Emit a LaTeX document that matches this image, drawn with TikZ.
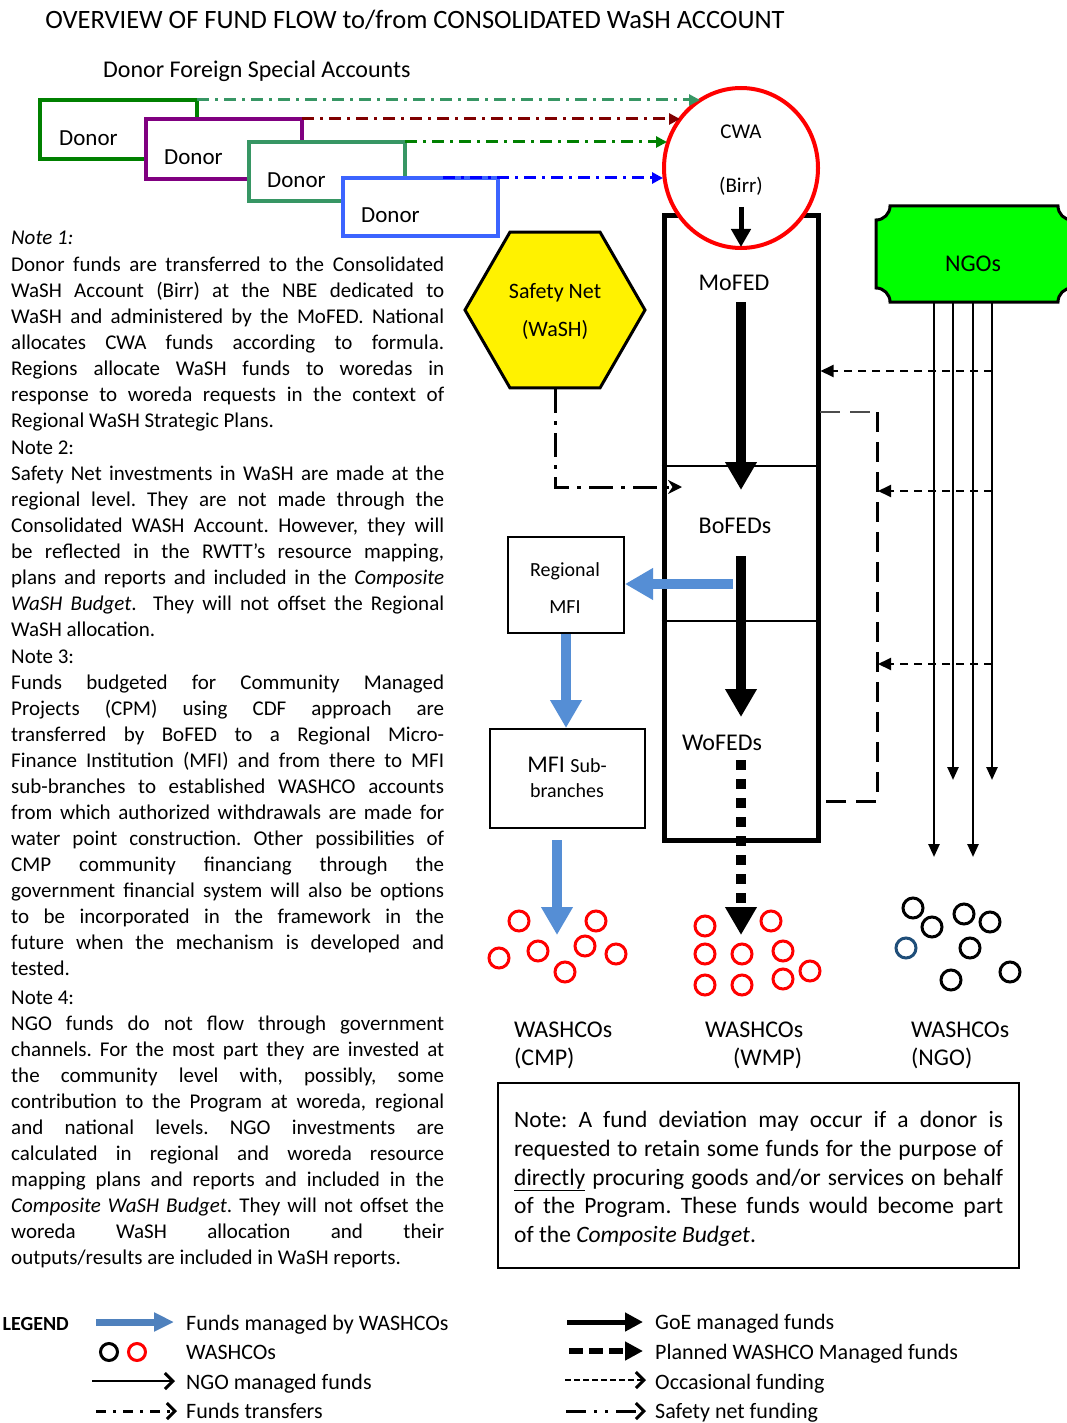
\documentclass[tikz,border=0pt]{standalone}
\usepackage{fontspec}
\setmainfont{Carlito}
\usetikzlibrary{arrows.meta,shapes.geometric}
\definecolor{dgreen}{RGB}{0,128,0}
\definecolor{dpurple}{RGB}{128,0,128}
\definecolor{sgreen}{RGB}{55,150,100}
\definecolor{dblue}{RGB}{60,100,255}
\definecolor{dred}{RGB}{128,0,0}
\definecolor{pblue}{RGB}{0,0,255}
\definecolor{fundblue}{RGB}{85,142,213}
\definecolor{legblue}{RGB}{79,129,189}
\definecolor{ngogreen}{RGB}{0,255,0}
\definecolor{navy}{RGB}{31,78,121}
\frenchspacing
\newcommand\fsz[1]{\fontsize{#1}{#1}\selectfont}
% justified and natural lines of the side notes
\newcommand\jline[3]{\node[txt, anchor=base west, font=\fsz{21}] (#1) at (11,#2) {\makebox[433pt][s]{#3}};}
\newcommand\nline[3]{\node[txt, anchor=base west, font=\fsz{21}] (#1) at (11,#2) {#3};}
\newcommand\bline[3]{\node[txt, anchor=base west, font=\fsz{23.5}] (#1) at (514,#2) {\makebox[489pt][s]{#3}};}
\begin{document}
\begin{tikzpicture}[x=1pt,y=-1pt,
  txt/.style={inner sep=0pt, anchor=base},
  donorbox/.style={draw, line width=4pt, fill=white, inner sep=0pt, outer sep=0pt},
  transfer/.style={line width=3pt, dash pattern=on 12pt off 6pt on 3pt off 6pt, -{Triangle[length=11pt,width=11pt]}},
  goe/.style={line width=10pt, -{Triangle[length=28pt,width=30pt]}},
  washco/.style={line width=10pt, fundblue, -{Triangle[length=28pt,width=30pt]}},
  planned/.style={line width=9.5pt, dash pattern=on 10pt off 9pt, -{Triangle[length=28pt,width=30pt]}},
  occasional/.style={line width=2pt, dash pattern=on 8pt off 6pt, -{Triangle[length=13pt,width=12pt]}},
  ngoflow/.style={line width=2.5pt, -{Triangle[length=13pt,width=11pt]}},
  bracket/.style={line width=3pt, dash pattern=on 20pt off 10pt},
  safety/.style={line width=3pt, dash pattern=on 24pt off 8pt on 4pt off 8pt, -{Stealth[length=14pt,width=14pt]}},
  wc/.style={circle, draw=red, line width=3pt, minimum size=20pt, inner sep=0pt},
  nc/.style={circle, draw=black, line width=3pt, minimum size=20pt, inner sep=0pt},
  plainbox/.style={draw, line width=2pt, inner sep=0pt},
  barb/.style={-{Straight Barb[length=8pt,width=16pt,line width=3pt]}}
]
\useasboundingbox (0,0) rectangle (1067,1423);
\fill[white] (0,0) rectangle (1067,1423);

% headings
\node[txt, font=\fsz{26.5}] (title) at (415,28.5) {OVERVIEW OF FUND FLOW to/from CONSOLIDATED WaSH ACCOUNT};
\node[txt, anchor=base west, font=\fsz{24}] (subtitle) at (103,78) {Donor Foreign Special Accounts};

% donor special accounts
\node[donorbox, draw=dgreen, minimum width=157pt, minimum height=59pt] (d1) at (118.5,129.5) {};
\node[txt, anchor=base west, font=\fsz{23}] (d1t) at (59,146) {Donor};
\node[donorbox, draw=dpurple, minimum width=156pt, minimum height=60pt] (d2) at (224,149) {};
\node[txt, anchor=base west, font=\fsz{23}] (d2t) at (164,165) {Donor};
\node[donorbox, draw=sgreen, minimum width=156pt, minimum height=59pt] (d3) at (327,171.5) {};
\node[txt, anchor=base west, font=\fsz{23}] (d3t) at (267,188) {Donor};
\node[donorbox, draw=dblue, minimum width=155pt, minimum height=58pt] (d4) at (420.5,207) {};
\node[txt, anchor=base west, font=\fsz{23}] (d4t) at (361,223) {Donor};

% government channel column
\node[draw, line width=5pt, minimum width=154pt, minimum height=624pt, inner sep=0pt] (col) at (741,528) {};
\draw[line width=2pt] (col.west |- 0,466) -- (col.east |- 0,466);
\draw[line width=2pt] (col.west |- 0,621) -- (col.east |- 0,621);
\node[txt, font=\fsz{24}] (mofed) at (734,290) {MoFED};
\node[txt, font=\fsz{24}] (bofed) at (735,533) {BoFEDs};
\node[txt, font=\fsz{24}] (wofed) at (722,750) {WoFEDs};

% consolidated WaSH account
\node[ellipse, draw=red, line width=4pt, fill=white, minimum width=154pt, minimum height=160pt, inner sep=0pt] (cwa) at (741,168) {};
\node[txt, font=\fsz{21}] (cwat) at (741,139) {CWA};
\node[txt, font=\fsz{21}] (birrt) at (741,193) {(Birr)};
\coordinate (birr) at (741,207);
\coordinate (cwaout) at (741,247);
\draw[line width=5pt, -{Triangle[length=18pt,width=19pt]}] (birr) -- (cwaout);

% donor transfers into the CWA
\coordinate (e1) at (700,100);
\coordinate (e2) at (680,119);
\coordinate (e3) at (667,142);
\coordinate (s4) at (443,178);
\coordinate (e4) at (663,178);
\draw[transfer, sgreen] (d1.north east) -- (d1.north east -| e1);
\draw[transfer, dred] (d2.north east) -- (d2.north east -| e2);
\draw[transfer, dgreen] (d3.north east) -- (d3.north east -| e3);
\draw[transfer, pblue] (s4) -- (e4);

% GoE flows down the column
\coordinate (m1) at (741,302);
\coordinate (m2) at (741,490);
\coordinate (b1) at (741,556);
\coordinate (b2) at (741,717);
\coordinate (w1) at (741,760);
\coordinate (w2) at (741,935);
\draw[goe] (m1) -- (m2);
\draw[goe] (b1) -- (b2);
\draw[planned] (w1) -- (w2);

% safety net
\node[regular polygon, regular polygon sides=6, minimum size=180pt, draw, line width=3pt, fill=yellow, inner sep=0pt] (sn) at (555,310) {};
\node[txt, font=\fsz{22}] (snt1) at (555,298) {Safety Net};
\node[txt, font=\fsz{22}] (snt2) at (555,336) {(WaSH)};
\coordinate (snend) at (682,487);
\draw[safety] (sn.south) |- (snend);

% micro-finance route
\node[plainbox, minimum width=116pt, minimum height=96pt] (rmfi) at (566,585) {};
\node[txt, font=\fsz{20}] (rmfit1) at (565,576) {Regional};
\node[txt, font=\fsz{20}] (rmfit2) at (565,613) {MFI};
\node[plainbox, minimum width=155pt, minimum height=99pt] (msub) at (567.5,778.5) {};
\node[txt, font=\fsz{24}] (msubt1) at (567,772.5) {MFI {\fsz{20}Sub-}};
\node[txt, font=\fsz{20}] (msubt2) at (567,797) {branches};
\coordinate (bofout) at (733,584);
\draw[washco] (bofout) -- (bofout -| rmfi.east);
\draw[washco] (rmfi.south) -- (rmfi.south |- msub.north);
\coordinate (cmpin) at (557,840);
\coordinate (cmpend) at (557,935);
\draw[washco] (cmpin) -- (cmpend);

% WASHCOs
\foreach \p [count=\i] in {(519,921),(596,921),(499,958),(538,951),(585,946),(616,954),(565,972)}
  \node[wc] (cmp\i) at \p {};
\foreach \p [count=\i] in {(705,926),(771,921),(705,954),(742,954),(783,951),(705,985),(742,985),(783,979),(810,971)}
  \node[wc] (wmp\i) at \p {};
\foreach \p [count=\i] in {(913,908),(932,927),(964,914),(990,922),(970,948),(951,980),(1010,972)}
  \node[nc] (ngo\i) at \p {};
\node[nc, draw=navy] (ngo8) at (906,948) {};
\node[txt, anchor=base west, font=\fsz{24}] (cmpl1) at (514,1037) {WASHCOs};
\node[txt, anchor=base west, font=\fsz{24}] (cmpl2) at (514,1065) {(CMP)};
\node[txt, anchor=base west, font=\fsz{24}] (wmpl1) at (705,1037) {WASHCOs};
\node[txt, anchor=base west, font=\fsz{24}] (wmpl2) at (733,1065) {(WMP)};
\node[txt, anchor=base west, font=\fsz{24}] (ngol1) at (911,1037) {WASHCOs};
\node[txt, anchor=base west, font=\fsz{24}] (ngol2) at (911,1065) {(NGO)};

% NGOs
\draw[line width=3pt, fill=ngogreen]
  (890,206) -- (1058,206) arc[start angle=180, end angle=90, radius=14]
  -- (1072,288) arc[start angle=270, end angle=180, radius=14]
  -- (890,302) arc[start angle=0, end angle=-90, radius=14]
  -- (876,220) arc[start angle=90, end angle=0, radius=14] -- cycle;
\node[txt, font=\fsz{24}] (ngos) at (973,272) {NGOs};
\foreach \x/\e in {934/857, 953/780, 973/857, 992/780} {
  \coordinate (ngotop\x) at (\x,302);
  \coordinate (ngoend\x) at (\x,\e);
  \draw[ngoflow] (ngotop\x) -- (ngoend\x);
}

% occasional funding
\coordinate (br1) at (820,412);
\coordinate (br2) at (877,412);
\coordinate (br3) at (877,801);
\coordinate (br4) at (820,801);
\draw[bracket, line width=2pt, black!70] (br1) -- (br2);
\draw[bracket] (br2) -- (br3) -- (br4);
\coordinate (o1s) at (992,371);
\coordinate (o2s) at (992,491);
\coordinate (o2e) at (878,491);
\coordinate (o3s) at (992,664);
\coordinate (o3e) at (878,664);
\draw[occasional] (o1s) -- (col.east |- o1s);
\draw[occasional] (o2s) -- (o2e);
\draw[occasional] (o3s) -- (o3e);

% side notes
\nline{n1h}{245}{\textit{Note 1:}}
\jline{n1a}{271}{Donor funds are transferred to the Consolidated}
\jline{n1b}{297}{WaSH Account (Birr) at the NBE dedicated to}
\jline{n1c}{323}{WaSH and administered by the MoFED. National}
\jline{n1d}{349}{allocates CWA funds according to formula.}
\jline{n1e}{375}{Regions allocate WaSH funds to woredas in}
\jline{n1f}{401}{response to woreda requests in the context of}
\nline{n1g}{427}{Regional WaSH Strategic Plans.}
\nline{n2h}{454}{Note 2:}
\jline{n2a}{480}{Safety Net investments in WaSH are made at the}
\jline{n2b}{506}{regional level. They are not made through the}
\jline{n2c}{532}{Consolidated WASH Account. However, they will}
\jline{n2d}{558}{be reflected in the RWTT’s resource mapping,}
\jline{n2e}{584}{plans and reports and included in the \textit{Composite}}
\jline{n2f}{610}{\textit{WaSH Budget}. \ They will not offset the Regional}
\nline{n2g}{636}{WaSH allocation.}
\nline{n3h}{663}{Note 3:}
\jline{n3a}{689}{Funds budgeted for Community Managed}
\jline{n3b}{715}{Projects (CPM) using CDF approach are}
\jline{n3c}{741}{transferred by BoFED to a Regional Micro-}
\jline{n3d}{767}{Finance Institution (MFI) and from there to MFI}
\jline{n3e}{793}{sub-branches to established WASHCO accounts}
\jline{n3f}{819}{from which authorized withdrawals are made for}
\jline{n3g}{845}{water point construction. Other possibilities of}
\jline{n3i}{871}{CMP community financiang through the}
\jline{n3j}{897}{government financial system will also be options}
\jline{n3k}{923}{to be incorporated in the framework in the}
\jline{n3l}{949}{future when the mechanism is developed and}
\nline{n3m}{975}{tested.}
\nline{n4h}{1004}{Note 4:}
\jline{n4a}{1030}{NGO funds do not flow through government}
\jline{n4b}{1056}{channels. For the most part they are invested at}
\jline{n4c}{1082}{the community level with, possibly, some}
\jline{n4d}{1108}{contribution to the Program at woreda, regional}
\jline{n4e}{1134}{and national levels. NGO investments are}
\jline{n4f}{1160}{calculated in regional and woreda resource}
\jline{n4g}{1186}{mapping plans and reports and included in the}
\jline{n4i}{1212}{\textit{Composite WaSH Budget}. They will not offset the}
\jline{n4j}{1238}{woreda WaSH allocation and their}
\nline{n4k}{1264}{outputs/results are included in WaSH reports.}

% fund deviation note
\node[plainbox, minimum width=521pt, minimum height=185pt] (notebox) at (758.5,1175.5) {};
\bline{nb1}{1127}{Note: A fund deviation may occur if a donor is}
\bline{nb2}{1156}{requested to retain some funds for the purpose of}
\bline{nb3}{1185}{\underline{directly} procuring goods and/or services on behalf}
\bline{nb4}{1213}{of the Program. These funds would become part}
\node[txt, anchor=base west, font=\fsz{23.5}] (nb5) at (514,1242) {of the \textit{Composite Budget}.};

% legend
\node[txt, anchor=base east, font=\fsz{20}\bfseries] (legend) at (69,1330) {LEGEND};
\coordinate (lg1a) at (96,1322);  \coordinate (lg1b) at (174,1322);
\draw[line width=7pt, legblue, -{Triangle[length=20pt,width=18pt]}] (lg1a) -- (lg1b);
\node[txt, anchor=base west, font=\fsz{22}] (lgt1) at (186,1330) {Funds managed by WASHCOs};
\node[nc, minimum size=17pt] (lgc1) at (109,1352) {};
\node[wc, minimum size=17pt] (lgc2) at (137,1352) {};
\node[txt, anchor=base west, font=\fsz{22}] (lgt2) at (186,1359) {WASHCOs};
\coordinate (lg3a) at (92,1381);  \coordinate (lg3b) at (175,1381);
\draw[line width=2pt, barb] (lg3a) -- (lg3b);
\node[txt, anchor=base west, font=\fsz{22}] (lgt3) at (186,1389) {NGO managed funds};
\coordinate (lg4a) at (96,1411);  \coordinate (lg4b) at (177,1411);
\draw[line width=3pt, dash pattern=on 10pt off 7pt on 3pt off 7pt, barb] (lg4a) -- (lg4b);
\node[txt, anchor=base west, font=\fsz{22}] (lgt4) at (186,1418) {Funds transfers};

\coordinate (lg5a) at (567,1322);  \coordinate (lg5b) at (643,1322);
\draw[line width=5pt, -{Triangle[length=18pt,width=18pt]}] (lg5a) -- (lg5b);
\node[txt, anchor=base west, font=\fsz{22}] (lgt5) at (655,1329) {GoE managed funds};
\coordinate (lg6a) at (569,1351);  \coordinate (lg6b) at (643,1351);
\draw[line width=6pt, dash pattern=on 14pt off 6pt, -{Triangle[length=18pt,width=18pt]}] (lg6a) -- (lg6b);
\node[txt, anchor=base west, font=\fsz{22}] (lgt6) at (655,1359) {Planned WASHCO Managed funds};
\coordinate (lg7a) at (565,1380);  \coordinate (lg7b) at (646,1380);
\draw[line width=2pt, dash pattern=on 6pt off 3pt, barb] (lg7a) -- (lg7b);
\node[txt, anchor=base west, font=\fsz{22}] (lgt7) at (655,1389) {Occasional funding};
\coordinate (lg8a) at (566,1411);  \coordinate (lg8b) at (646,1411);
\draw[line width=3pt, dash pattern=on 20pt off 8pt on 3pt off 8pt on 3pt off 8pt, barb] (lg8a) -- (lg8b);
\node[txt, anchor=base west, font=\fsz{22}] (lgt8) at (655,1418) {Safety net funding};
\end{tikzpicture}
\end{document}
